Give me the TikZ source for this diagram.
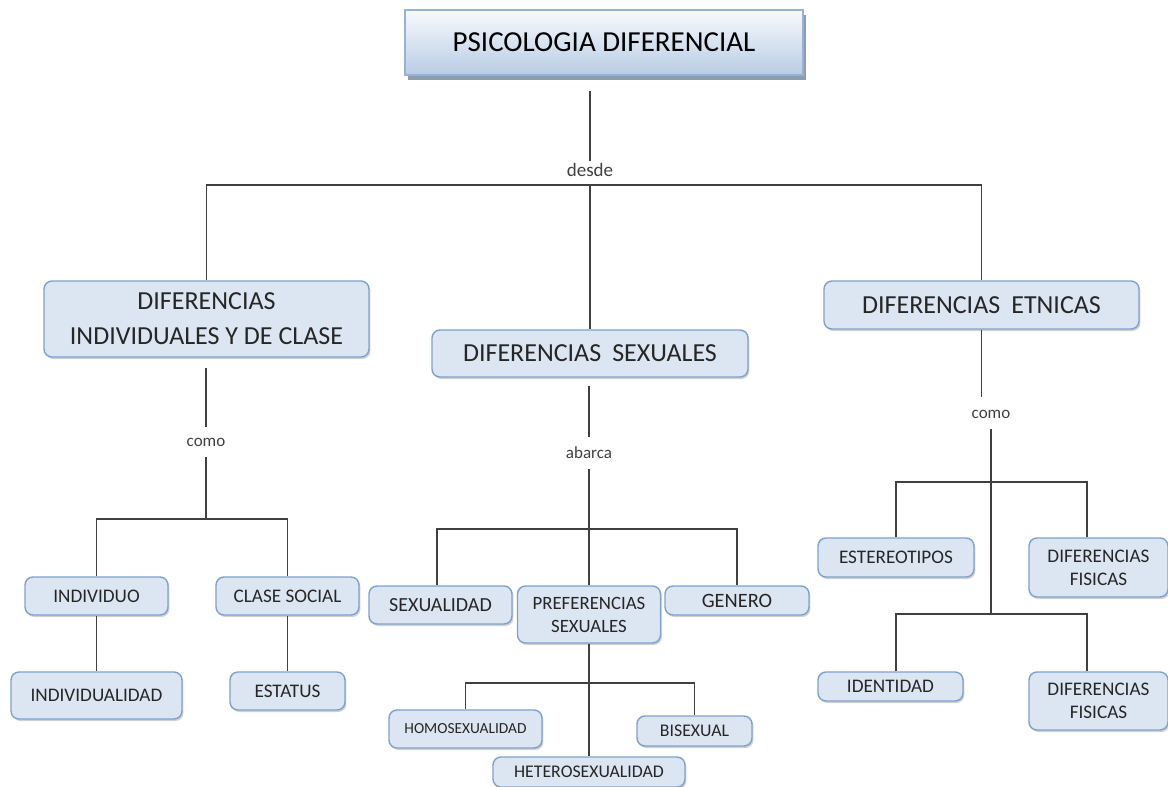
\documentclass[tikz,border=0pt]{standalone}
\usepackage{fontspec}
\setmainfont{Carlito}
\usepackage{xcolor}
\usepackage{tikz}
\usetikzlibrary{positioning, calc, shadows}
\definecolor{boxfill}{HTML}{DCE6F2}
\definecolor{boxline}{HTML}{7EA1CD}
\definecolor{titletop}{HTML}{F7FAFD}
\definecolor{titlebot}{HTML}{B8CCE4}
\definecolor{titleline}{HTML}{95B3D7}
\definecolor{titleshade}{HTML}{8C9CB1}
\definecolor{wirecol}{HTML}{404040}
\definecolor{textcol}{HTML}{262626}
\tikzset{
    concept/.style={rectangle, rounded corners=4pt, draw=boxline, fill=boxfill, line width=0.7pt, inner sep=0pt, align=center, text=textcol,
        drop shadow={shadow xshift=0.7pt, shadow yshift=-1pt, fill=black, opacity=0.18}},
    headbox/.style={rectangle, draw=titleline, line width=1pt, top color=titletop, bottom color=titlebot, inner sep=0pt, text=black,
        font=\fontsize{14.5}{17}\selectfont, drop shadow={shadow xshift=1.5pt, shadow yshift=-2.5pt, fill=titleshade, opacity=1}},
    bigfont/.style={font=\fontsize{13}{17.5}\selectfont},
    smallfont/.style={font=\fontsize{9.6}{11.5}\selectfont},
    linkword/.style={text=wirecol, inner sep=1pt, font=\fontsize{8.5}{10}\selectfont},
    wire/.style={draw=wirecol, line width=0.9pt}
}

\begin{document}
\begin{tikzpicture}[x=0.5pt, y=-0.5pt]
    \useasboundingbox (0,0) rectangle (1168,787);

    % Title
    \node[headbox, minimum width=199pt, minimum height=32.5pt] (title) at (604,42.5) {PSICOLOGIA DIFERENCIAL};
    \node[linkword, font=\fontsize{9.5}{11}\selectfont] (desde) at (590,170) {desde};

    % Main concepts
    \node[concept, bigfont, minimum width=162.5pt, minimum height=38pt] (dind) at (206.5,319) {DIFERENCIAS\\INDIVIDUALES Y DE CLASE};
    \node[concept, bigfont, minimum width=158pt, minimum height=23.5pt] (dsex) at (590,353.5) {DIFERENCIAS\hspace{0.2em} SEXUALES};
    \node[concept, bigfont, minimum width=157.5pt, minimum height=24pt] (detn) at (981.5,305) {DIFERENCIAS\hspace{0.2em} ETNICAS};

    % Linking words
    \node[linkword] (comoL) at (206,442) {como};
    \node[linkword] (abarca) at (589,453) {abarca};
    \node[linkword] (comoR) at (991,414) {como};

    % Individual and class
    \node[concept, smallfont, minimum width=71.5pt, minimum height=19pt] (indiv) at (96.5,596) {INDIVIDUO};
    \node[concept, smallfont, minimum width=71.5pt, minimum height=19pt] (clase) at (287.5,596) {CLASE SOCIAL};
    \node[concept, smallfont, minimum width=85.5pt, minimum height=23.5pt] (individualidad) at (96.5,695.5) {INDIVIDUALIDAD};
    \node[concept, smallfont, minimum width=57.5pt, minimum height=19pt] (estatus) at (287.5,691) {ESTATUS};

    % Sexual
    \node[concept, font=\fontsize{10}{12}\selectfont, minimum width=71.5pt, minimum height=19pt] (sexualidad) at (440.5,605) {SEXUALIDAD};
    \node[concept, font=\fontsize{9.4}{11.5}\selectfont, minimum width=71.5pt, minimum height=28.5pt] (pref) at (589,614.5) {PREFERENCIAS\\SEXUALES};
    \node[concept, font=\fontsize{10.2}{12}\selectfont, minimum width=72pt, minimum height=14.5pt] (genero) at (737,600.5) {GENERO};
    \node[concept, font=\fontsize{7.7}{9}\selectfont, minimum width=76.5pt, minimum height=19pt] (homo) at (465.5,729) {HOMOSEXUALIDAD};
    \node[concept, font=\fontsize{8.9}{10}\selectfont, minimum width=57.5pt, minimum height=15pt] (bisex) at (694.5,731) {BISEXUAL};
    \node[concept, font=\fontsize{8.9}{10}\selectfont, minimum width=96pt, minimum height=15pt] (hetero) at (589,772) {HETEROSEXUALIDAD};

    % Ethnic
    \node[concept, smallfont, minimum width=78pt, minimum height=19.5pt] (estereo) at (896,557.5) {ESTEREOTIPOS};
    \node[concept, smallfont, minimum width=69.5pt, minimum height=29.5pt] (dfis1) at (1098.5,567.5) {DIFERENCIAS\\FISICAS};
    \node[concept, smallfont, minimum width=72.5pt, minimum height=14.5pt] (ident) at (890.5,686.5) {IDENTIDAD};
    \node[concept, smallfont, minimum width=69.5pt, minimum height=29pt] (dfis2) at (1098.5,701) {DIFERENCIAS\\FISICAS};

    % Junctions
    \coordinate (jtop) at (590,185);
    \coordinate (jl) at (206,519);
    \coordinate (jm) at (589,529);
    \coordinate (jm2) at (589,683);
    \coordinate (jr1) at (991,482);
    \coordinate (jr2) at (991,614);
    \coordinate (fl1) at (896,482);
    \coordinate (fr1) at (1087,482);
    \coordinate (fl2) at (896,614);
    \coordinate (fr2) at (1087,614);

    % Connections
    \draw[wire, shorten >=7.5pt] (desde.north) -- (desde.north |- title.south);
    \draw[wire] (dind.north) |- (jtop) -| (detn.north);
    \draw[wire] (jtop) -- (dsex.north);

    \draw[wire, shorten <=5pt, shorten >=4pt] (comoL.north |- dind.south) -- (comoL.north);
    \draw[wire, shorten <=4pt] (comoL.south) -- (jl);
    \draw[wire] (indiv.north) |- (jl) -| (clase.north);
    \draw[wire] (indiv.south) -- (individualidad.north);
    \draw[wire] (clase.south) -- (estatus.north);

    \draw[wire, shorten <=4pt, shorten >=4pt] (abarca.north |- dsex.south) -- (abarca.north);
    \draw[wire, shorten <=4pt] (abarca.south) -- (pref.north);
    \draw[wire] (sexualidad.north -| 437,0) |- (jm) -| (genero.north);
    \draw[wire] (pref.south) -- (hetero.north);
    \draw[wire] (homo.north) |- (jm2) -| (bisex.north);

    \draw[wire, shorten >=5pt] (detn.south) -- (detn.south |- comoR.north);
    \draw[wire, shorten <=4pt] (comoR.south) -- (jr2);
    \draw[wire] (fl1 |- estereo.north) -- (fl1) -- (fr1) -- (fr1 |- dfis1.north);
    \draw[wire] (fl2 |- ident.north) -- (fl2) -- (fr2) -- (fr2 |- dfis2.north);
\end{tikzpicture}
\end{document}
